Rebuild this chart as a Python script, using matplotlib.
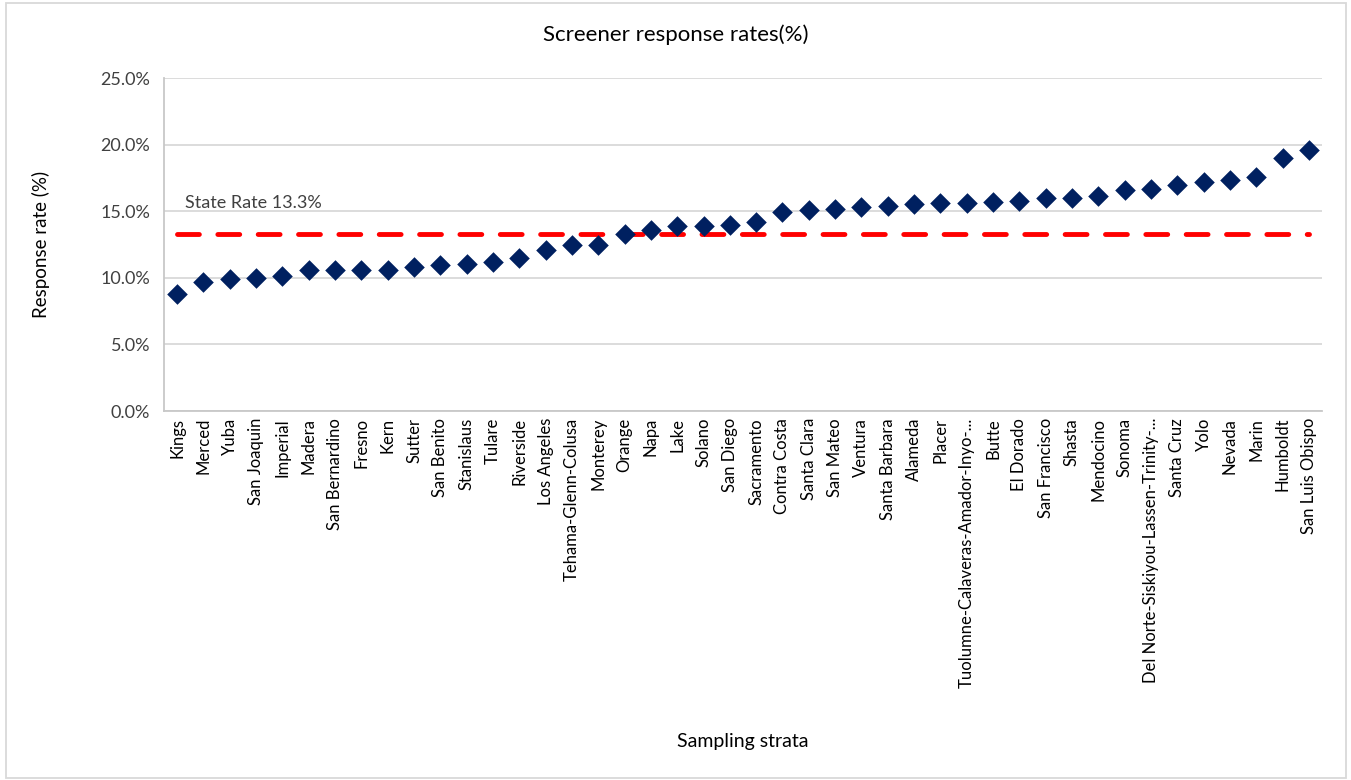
import matplotlib.pyplot as plt
from matplotlib.ticker import PercentFormatter
from matplotlib.patches import Rectangle

plt.rcParams['font.family'] = ['Lato', 'DejaVu Sans']

strata = ['Kings', 'Merced', 'Yuba', 'San Joaquin', 'Imperial', 'Madera',
          'San Bernardino', 'Fresno', 'Kern', 'Sutter', 'San Benito',
          'Stanislaus', 'Tulare', 'Riverside', 'Los Angeles',
          'Tehama-Glenn-Colusa', 'Monterey', 'Orange', 'Napa', 'Lake',
          'Solano', 'San Diego', 'Sacramento', 'Contra Costa', 'Santa Clara',
          'San Mateo', 'Ventura', 'Santa Barbara', 'Alameda', 'Placer',
          'Tuolumne-Calaveras-Amador-Inyo-...', 'Butte', 'El Dorado',
          'San Francisco', 'Shasta', 'Mendocino', 'Sonoma',
          'Del Norte-Siskiyou-Lassen-Trinity-...', 'Santa Cruz', 'Yolo',
          'Nevada', 'Marin', 'Humboldt', 'San Luis Obispo']
rates = [8.8, 9.7, 9.9, 10.0, 10.1, 10.6, 10.6, 10.6, 10.6, 10.8, 10.95,
         11.0, 11.2, 11.5, 12.1, 12.5, 12.5, 13.3, 13.6, 13.9, 13.9, 14.0,
         14.2, 14.95, 15.1, 15.2, 15.35, 15.4, 15.55, 15.6, 15.6, 15.67,
         15.75, 16.0, 16.0, 16.15, 16.6, 16.67, 17.0, 17.2, 17.35, 17.55,
         19.0, 19.6]
state_rate = 13.3

fig = plt.figure(figsize=(13.51, 7.80), dpi=100)
ax = fig.add_axes([164 / 1351, 1 - 411 / 780, (1322 - 164) / 1351, (411 - 78) / 780])

x = range(len(strata))
ax.plot([0, len(strata) - 1], [state_rate, state_rate], color='#ff0000',
        linewidth=3.5, dashes=(4.5, 3.8), solid_capstyle='round',
        dash_capstyle='round', zorder=2)
ax.scatter(x, rates, marker='D', s=110, color='#002060', zorder=3,
           linewidths=0)
ax.text(0.3, 15.0, 'State Rate 13.3%', fontsize=13, color='#404040',
        va='bottom', ha='left')

ax.set_xlim(-0.5, len(strata) - 0.5)
ax.set_ylim(0, 25)
ax.set_yticks([0, 5, 10, 15, 20, 25])
ax.yaxis.set_major_formatter(PercentFormatter(decimals=1))
ax.set_xticks(list(x))
ax.set_xticklabels(strata, rotation=90, fontsize=12, color='#000000')
ax.tick_params(axis='y', labelsize=13, colors='#404040', length=0, pad=10)
ax.tick_params(axis='x', length=0, pad=5)
ax.grid(axis='y', color='#d9d9d9', linewidth=1.3)
ax.set_axisbelow(True)
for side in ['top', 'right']:
    ax.spines[side].set_visible(False)
for side in ['left', 'bottom']:
    ax.spines[side].set_color('#c8c8c8')
    ax.spines[side].set_linewidth(1.3)

ax.set_ylabel('Response rate (%)', fontsize=13.5, color='#000000')
ax.yaxis.set_label_coords((50 - 164) / 1158, 0.5)
fig.text(676 / 1351, 1 - 35 / 780, 'Screener response rates(%)',
         ha='center', va='center', fontsize=16, color='#000000')
fig.text(743 / 1351, 1 - 742 / 780, 'Sampling strata', ha='center',
         va='center', fontsize=14, color='#000000')

fig.patches.append(Rectangle((6 / 1351, 2 / 780), 1340 / 1351, 775 / 780,
                             transform=fig.transFigure, fill=False,
                             edgecolor='#d9d9d9', linewidth=1.3))

fig.savefig('out.png', dpi=100)
